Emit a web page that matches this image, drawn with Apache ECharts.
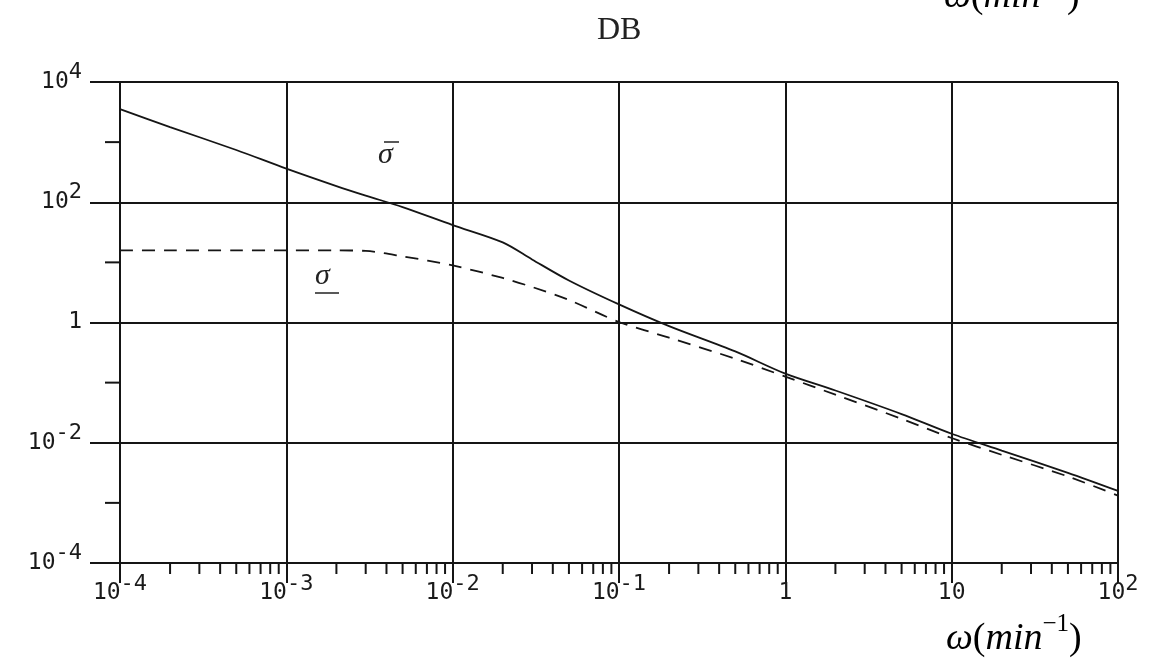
<!DOCTYPE html>
<html>
<head>
<meta charset="utf-8">
<script src="https://cdn.jsdelivr.net/npm/echarts@6/dist/echarts.min.js"></script>
<style>html,body{margin:0;padding:0;background:#fff}#c{width:1154px;height:659px}</style>
</head>
<body>
<div id="c"></div>
<script>
// frequency omega (min^-1)
const omega = [1e-4, 2e-4, 5e-4, 1e-3, 2e-3, 3e-3, 5e-3, 1e-2, 2e-2, 3e-2, 5e-2, 1e-1, 2e-1, 5e-1, 1, 2, 5, 10, 20, 50, 100];
// upper singular value (solid)
const sigmaBar = [3550, 1780, 740, 363, 186, 129, 83, 41.7, 21.5, 11.2, 5.0, 2.0, 0.87, 0.33, 0.141, 0.074, 0.030, 0.0141, 0.0074, 0.00316, 0.00158];
// lower singular value (dashed)
const sigmaLow = [15.8, 15.8, 15.8, 15.8, 15.8, 15.5, 12.6, 8.9, 5.5, 3.9, 2.37, 1.02, 0.56, 0.25, 0.126, 0.063, 0.025, 0.012, 0.0063, 0.00275, 0.00132];
// axis ranges / ticks
const xMin = 1e-4, xMax = 100;
const yMin = 1e-4, yMax = 1e4;
const xDecades = [1e-4, 1e-3, 1e-2, 1e-1, 1, 10];
const xMinorTicks = [];
xDecades.forEach(d => { for (let k = 2; k <= 9; k++) xMinorTicks.push(+(d * k).toPrecision(3)); });
const yMinorTicks = [1e-3, 1e-1, 10, 1e3];

const INK = '#151515';
const MONO = 'DejaVu Sans Mono';

function fmt(v) {
  const e = Math.round(Math.log10(v));
  if (e === 0) return '{b|1}';
  if (e === 1) return '{b|10}';
  return '{b|10}{e|' + e + '}';
}
const richLab = {
  b: { fontFamily: MONO, fontSize: 23, lineHeight: 32, verticalAlign: 'bottom', color: '#1a1a1a' },
  e: { fontFamily: MONO, fontSize: 22, lineHeight: 32, verticalAlign: 'top', color: '#1a1a1a' }
};

const chart = echarts.init(document.getElementById('c'));
const axisNameRich = {
  i: { fontFamily: 'Liberation Serif', fontStyle: 'italic', fontSize: 38, lineHeight: 46, verticalAlign: 'bottom', color: '#1a1a1a' },
  r: { fontFamily: 'Liberation Serif', fontSize: 38, lineHeight: 46, verticalAlign: 'bottom', color: '#1a1a1a' },
  s: { fontFamily: 'Liberation Serif', fontSize: 25, lineHeight: 46, verticalAlign: 'top', color: '#1a1a1a' }
};
const axisNameText = '{i|ω}{r|(}{i|min}{s|−1}{r|)}';

chart.setOption({
  animation: false,
  backgroundColor: '#fff',
  grid: { left: 120, right: 36, top: 82, bottom: 96 },
  xAxis: {
    type: 'log', logBase: 10, min: xMin, max: xMax, interval: 1,
    axisLine: { show: true, lineStyle: { color: INK, width: 2 } },
    axisTick: { show: true, length: 20, lineStyle: { color: INK, width: 2 } },
    splitLine: { show: true, lineStyle: { color: INK, width: 2 } },
    minorTick: { show: false }, minorSplitLine: { show: false },
    axisLabel: { margin: 10, formatter: fmt, rich: richLab, showMinLabel: true, showMaxLabel: true, hideOverlap: false }
  },
  yAxis: {
    type: 'log', logBase: 10, min: yMin, max: yMax, interval: 2,
    axisLine: { show: true, lineStyle: { color: INK, width: 2 } },
    axisTick: { show: true, length: 30, lineStyle: { color: INK, width: 2 } },
    splitLine: { show: true, lineStyle: { color: INK, width: 2 } },
    minorTick: { show: false }, minorSplitLine: { show: false },
    axisLabel: { margin: 38, formatter: fmt, rich: richLab, padding: [0, 0, 9, 0], showMinLabel: true, showMaxLabel: true, hideOverlap: false }
  },
  series: [
    {
      name: 'sigmaBar', type: 'line', showSymbol: false, smooth: 0.3,
      data: omega.map((w, i) => [w, sigmaBar[i]]),
      lineStyle: { color: INK, width: 1.8, type: 'solid' }, z: 3
    },
    {
      name: 'sigma', type: 'line', showSymbol: false, smooth: 0.3,
      data: omega.map((w, i) => [w, sigmaLow[i]]),
      lineStyle: { color: INK, width: 1.8, type: [13, 9] }, z: 3
    },
    {
      name: 'xMinor', type: 'custom', clip: false, silent: true,
      data: xMinorTicks.map(v => [v, yMin]),
      renderItem: function (params, api) {
        const p = api.coord([api.value(0), api.value(1)]);
        return { type: 'line', shape: { x1: p[0], y1: p[1], x2: p[0], y2: p[1] + 11 }, style: { stroke: INK, lineWidth: 2 } };
      }, z: 4
    },
    {
      name: 'yMinor', type: 'custom', clip: false, silent: true,
      data: yMinorTicks.map(v => [xMin, v]),
      renderItem: function (params, api) {
        const p = api.coord([api.value(0), api.value(1)]);
        return { type: 'line', shape: { x1: p[0] - 15, y1: p[1], x2: p[0], y2: p[1] }, style: { stroke: INK, lineWidth: 2 } };
      }, z: 4
    }
  ],
  graphic: [
    { type: 'text', left: 597, top: 15, style: { text: 'DB', fontFamily: 'Liberation Serif', fontSize: 32, fill: '#222' } },
    { type: 'text', left: 946, top: 612, style: { text: axisNameText, rich: axisNameRich } },
    { type: 'text', left: 944, top: -30, style: { text: axisNameText, rich: axisNameRich } },
    // curve annotations
    { type: 'text', left: 378, top: 140, style: { text: 'σ', fontFamily: 'Liberation Serif', fontStyle: 'italic', fontSize: 30, fill: '#222' } },
    { type: 'line', shape: { x1: 384, y1: 142, x2: 399, y2: 142 }, style: { stroke: '#222', lineWidth: 1.5 } },
    { type: 'text', left: 315, top: 261, style: { text: 'σ', fontFamily: 'Liberation Serif', fontStyle: 'italic', fontSize: 30, fill: '#222' } },
    { type: 'line', shape: { x1: 315, y1: 293, x2: 339, y2: 293 }, style: { stroke: '#222', lineWidth: 1.5 } }
  ]
});
</script>
</body>
</html>
